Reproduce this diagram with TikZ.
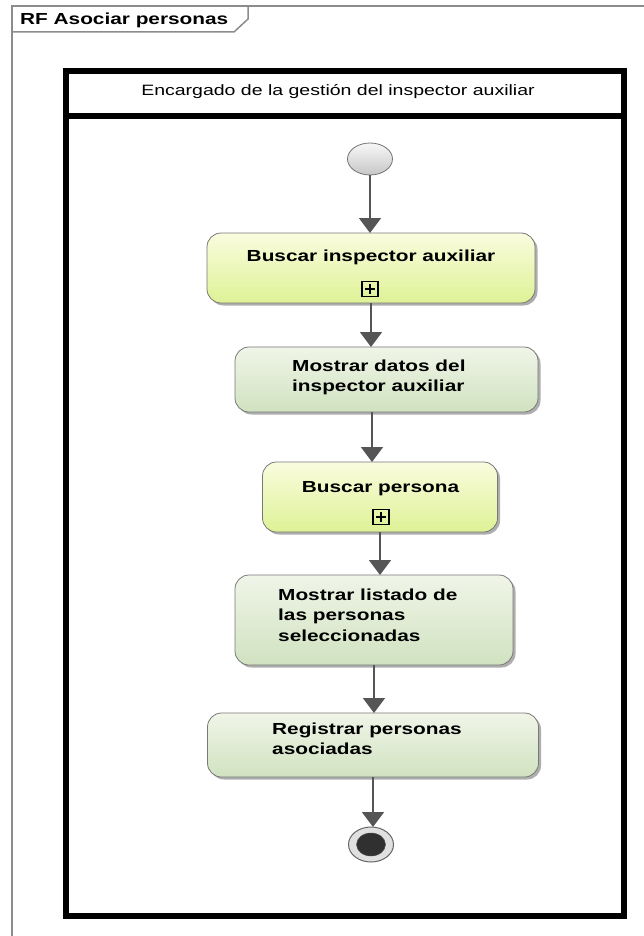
\documentclass[tikz,border=0pt]{standalone}
\usepackage{fontspec}
\setmainfont{Liberation Sans}[FakeStretch=1.3]
\usetikzlibrary{arrows.meta,shadows,shapes.geometric}
\definecolor{framegray}{RGB}{140,140,140}
\definecolor{linegray}{RGB}{85,85,85}
\definecolor{boxborder}{RGB}{120,120,120}
\definecolor{ytop}{RGB}{250,252,222}
\definecolor{ybot}{RGB}{222,242,150}
\definecolor{gtop}{RGB}{240,245,232}
\definecolor{gbot}{RGB}{208,226,192}
\definecolor{endfill}{RGB}{48,48,48}
\tikzset{
  actbase/.style={draw=boxborder, line width=0.8pt, rounded corners=14pt, inner sep=0pt, outer sep=0pt,
    drop shadow={shadow xshift=2.5pt, shadow yshift=-2.5pt, fill=black!45, opacity=0.7}},
  acty/.style={actbase, top color=ytop, bottom color=ybot},
  actg/.style={actbase, top color=gtop, bottom color=gbot},
  lbl/.style={font=\fontsize{16}{20.5}\selectfont\bfseries, inner sep=0pt, text=black},
  flow/.style={draw=linegray, line width=1.6pt, -{Triangle[width=22pt,length=15pt]}},
  plusbox/.style={draw=black, line width=1.5pt, minimum width=16pt, minimum height=15pt, inner sep=0pt,
    path picture={\draw[line width=2.6pt] (path picture bounding box.center) ++(-5pt,0) -- ++(10pt,0);
      \draw[line width=2.6pt] (path picture bounding box.center) ++(0,-5pt) -- ++(0,10pt);}},
}
\begin{document}
\begin{tikzpicture}[x=1pt,y=-1pt]
\useasboundingbox (0,0) rectangle (644,936);
% outer diagram frame
\draw[framegray, line width=1.5pt] (12,940) -- (12,6) -- (650,6);
\draw[framegray, line width=1.5pt] (12,32) -- (234,32) -- (248,19) -- (248,6);
\node[anchor=base west, inner sep=0pt, font=\fontsize{16}{19}\selectfont\bfseries] (title) at (20,25) {RF Asociar personas};
% partition
\draw[black, line width=6pt] (66,71) rectangle (624,916);
\draw[black, line width=6pt] (66,116.5) -- (624,116.5);
\node[anchor=base, inner sep=0pt, font=\fontsize{15}{18}\selectfont] (hdr) at (338,96) {Encargado de la gestión del inspector auxiliar};
% start
\node[ellipse, draw=black!55, line width=0.8pt, top color=black!3, bottom color=black!22, minimum width=45pt, minimum height=32pt, inner sep=0pt, outer sep=0pt] (st) at (370,159) {};
% activities
\node[acty, minimum width=328pt, minimum height=70pt] (b1) at (371,268) {};
\node[lbl, anchor=base] (t1) at (371,261) {Buscar inspector auxiliar};
\node[plusbox] (p1) at (370,289) {};

\node[actg, minimum width=303pt, minimum height=65pt] (b2) at (386.5,379.5) {};
\node[lbl, anchor=north west, align=left] (t2) at (292,359.3) {Mostrar datos del\\inspector auxiliar};

\node[acty, minimum width=235pt, minimum height=70pt] (b3) at (380,497) {};
\node[lbl, anchor=base] (t3) at (380.5,492) {Buscar persona};
\node[plusbox] (p3) at (381,517) {};

\node[actg, minimum width=278pt, minimum height=90pt] (b4) at (374,620) {};
\node[lbl, anchor=north west, align=left] (t4) at (278,588.3) {Mostrar listado de\\las personas\\seleccionadas};

\node[actg, minimum width=331pt, minimum height=64pt] (b5) at (373,745) {};
\node[lbl, anchor=north west, align=left] (t5) at (272,722.3) {Registrar personas\\asociadas};
% final
\node[ellipse, draw=black!60, line width=1pt, fill=black!12, minimum width=45pt, minimum height=35pt, inner sep=0pt, outer sep=0pt] (fin) at (371,844.5) {};
\node[ellipse, fill=endfill, draw=black!70, minimum width=29pt, minimum height=23pt, inner sep=0pt] (finc) at (fin.center) {};
% flows
\coordinate (col2) at (372,0);
\draw[flow] (st.south) -- (st.south |- b1.north);
\draw[flow] (b1.south) -- (b1.south |- b2.north);
\draw[flow] (b2.south -| col2) -- (b3.north -| col2);
\draw[flow] (b3.south) -- (b3.south |- b4.north);
\draw[flow] (b4.south) -- (b4.south |- b5.north);
\draw[flow] (b5.south) -- (b5.south |- fin.north);
\end{tikzpicture}
\end{document}
